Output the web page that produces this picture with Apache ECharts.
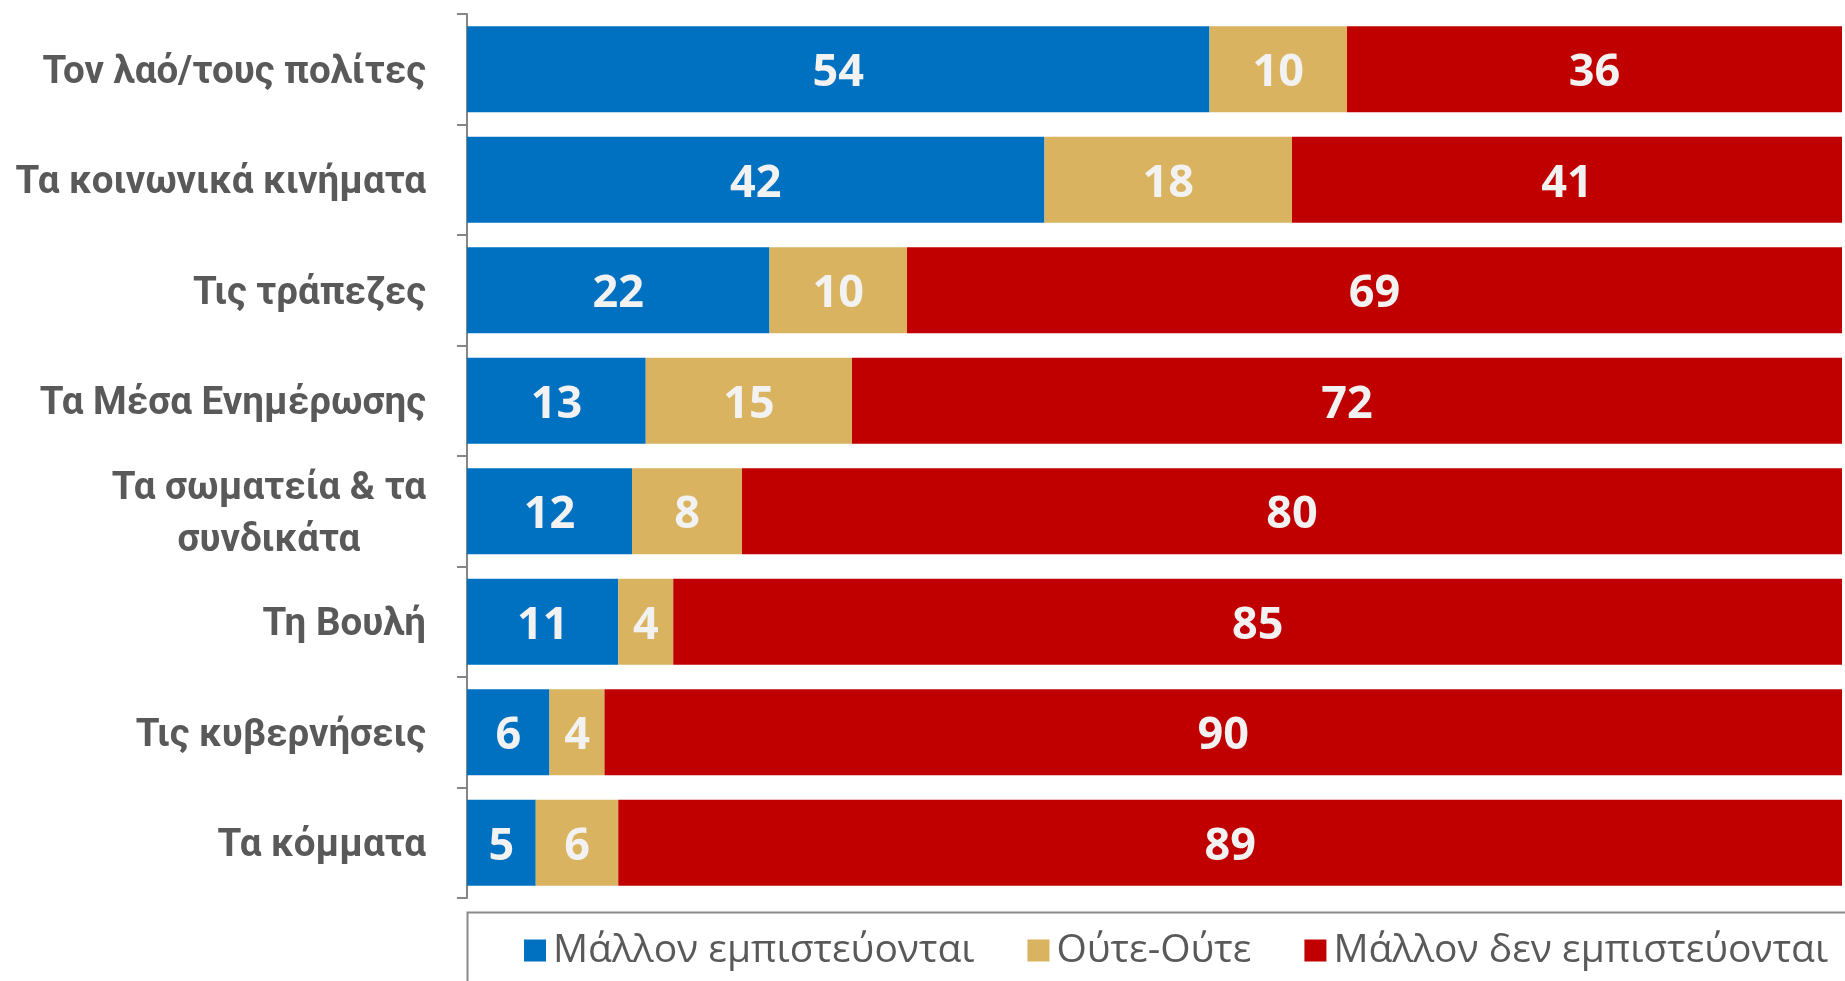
<!DOCTYPE html>
<html>
<head>
<meta charset="UTF-8">
<title>Εμπιστοσύνη</title>
<script src="https://cdn.jsdelivr.net/npm/echarts@6/dist/echarts.min.js"></script>
<style>
  html, body { margin: 0; padding: 0; background: #fff; }
  #main { width: 1845px; height: 981px; }
</style>
</head>
<body>
<div id="main"></div>
<script type="text/javascript">
// δεδομένα
var categories = ['Τον λαό/τους πολίτες', 'Τα κοινωνικά κινήματα', 'Τις τράπεζες', 'Τα Μέσα Ενημέρωσης',
                  'Τα σωματεία & τα\nσυνδικάτα', 'Τη Βουλή', 'Τις κυβερνήσεις', 'Τα κόμματα'];
var trust    = [54, 42, 22, 13, 12, 11, 6, 5];
var neither  = [10, 18, 10, 15, 8, 4, 4, 6];
var distrust = [36, 41, 69, 72, 80, 85, 90, 89];
var seriesNames = ['Μάλλον εμπιστεύονται', 'Ούτε-Ούτε', 'Μάλλον δεν εμπιστεύονται'];

(function () {
  var FONT = "'Open Sans', sans-serif";
  var CAT_FONT = "Roboto, 'Open Sans', sans-serif";
  var myChart = echarts.init(document.getElementById('main'));

  function bar(name, data, color) {
    return {
      name: name,
      type: 'bar',
      stack: 'total',
      barCategoryGap: '22%',
      data: data,
      itemStyle: { color: color },
      label: {
        show: true,
        position: 'inside',
        offset: [0, 4],
        color: '#F2F2F2',
        fontFamily: FONT,
        fontWeight: 'bold',
        fontSize: 45
      }
    };
  }

  var option = {
    animation: false,
    textStyle: { fontFamily: FONT },
    grid: { left: 467, right: 3, top: 14, bottom: 83, containLabel: false, outerBoundsMode: 'none' },
    legend: {
      data: seriesNames,
      left: 519,
      top: 926,
      itemWidth: 22,
      itemHeight: 22,
      itemGap: 53,
      icon: 'rect',
      textStyle: { color: '#595959', fontSize: 39, fontFamily: FONT, padding: [0, 0, 0, 2] }
    },
    graphic: [{
      type: 'rect',
      shape: { x: 467.5, y: 912.5, width: 1500, height: 200 },
      style: { fill: 'none', stroke: '#8a8a8a', lineWidth: 2 },
      silent: true
    }],
    xAxis: {
      type: 'value',
      min: 0,
      max: 100,
      show: false
    },
    yAxis: {
      type: 'category',
      inverse: true,
      data: categories,
      axisLine: { lineStyle: { color: '#868686', width: 2 } },
      axisTick: { show: true, length: 10, lineStyle: { color: '#868686', width: 2 } },
      axisLabel: {
        margin: 41,
        color: '#595959',
        fontFamily: CAT_FONT,
        fontWeight: 'bold',
        fontSize: 38.5,
        formatter: function (v) {
          return v.split('\n').map(function (s) { return '{c|' + s + '}'; }).join('\n');
        },
        rich: {
          c: { align: 'center', color: '#595959', fontFamily: CAT_FONT, fontWeight: 'bold', fontSize: 38.5, lineHeight: 52, padding: [8, 0, 0, 0] }
        }
      }
    },
    series: [
      bar(seriesNames[0], trust, '#0070C0'),
      bar(seriesNames[1], neither, '#D9B360'),
      bar(seriesNames[2], distrust, '#C00000')
    ]
  };
  myChart.setOption(option);
})();
</script>
</body>
</html>
